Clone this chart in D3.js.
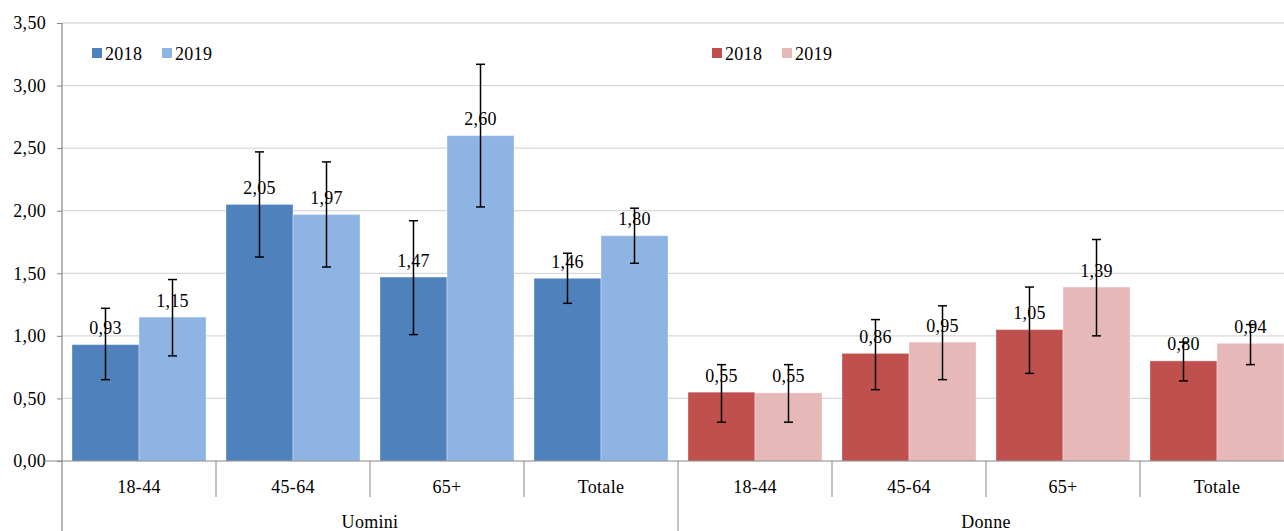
<!DOCTYPE html>
<html>
<head>
<meta charset="utf-8">
<script src="https://cdn.jsdelivr.net/npm/d3@7"></script>
<style>
  body { margin: 0; background: #fff; overflow: hidden; }
  svg text { font-family: "Liberation Serif", "DejaVu Serif", serif; fill: #000; font-size: 18px; letter-spacing: 0.3px; }
</style>
</head>
<body>
<div id="chart"></div>
<script>
// valori
var groups = ["Uomini", "Donne"];
var ages = ["18-44", "45-64", "65+", "Totale"];
var years = ["2018", "2019"];
var uomini2018 = [0.93, 2.05, 1.47, 1.46];
var uomini2019 = [1.15, 1.97, 2.60, 1.80];
var donne2018 = [0.55, 0.86, 1.05, 0.80];
var donne2019 = [0.545, 0.95, 1.39, 0.94];
// intervalli (limite inferiore / superiore)
var uomini2018Lo = [0.65, 1.63, 1.01, 1.26];
var uomini2018Hi = [1.22, 2.47, 1.92, 1.66];
var uomini2019Lo = [0.84, 1.55, 2.03, 1.58];
var uomini2019Hi = [1.45, 2.39, 3.17, 2.02];
var donne2018Lo = [0.31, 0.57, 0.70, 0.64];
var donne2018Hi = [0.77, 1.13, 1.39, 0.95];
var donne2019Lo = [0.31, 0.65, 1.00, 0.77];
var donne2019Hi = [0.77, 1.24, 1.77, 1.09];
var yTicks = [0, 0.5, 1, 1.5, 2, 2.5, 3, 3.5];

var palette = {
    Uomini: ["#4F81BD", "#8EB4E3"],
    Donne: ["#C0504D", "#E6B9B8"]
};

var W = 1284, H = 531;
// il grafico originale prosegue oltre il bordo destro
var mLeft = 62, mRight = 1294, mTop = 23, mBase = 461;

var series = {
    Uomini: [[uomini2018, uomini2018Lo, uomini2018Hi], [uomini2019, uomini2019Lo, uomini2019Hi]],
    Donne: [[donne2018, donne2018Lo, donne2018Hi], [donne2019, donne2019Lo, donne2019Hi]]
};

// righe piatte: una per barra
var rows = [];
groups.forEach(function (g) {
    ages.forEach(function (a, i) {
        years.forEach(function (yr, j) {
            rows.push({
                group: g, age: a, year: yr, yi: j,
                key: g + "|" + a,
                value: series[g][j][0][i],
                lo: series[g][j][1][i],
                hi: series[g][j][2][i]
            });
        });
    });
});

var catKeys = [];
groups.forEach(function (g) { ages.forEach(function (a) { catKeys.push(g + "|" + a); }); });

var x0 = d3.scaleBand().domain(catKeys).range([mLeft, mRight]).padding(0);
var x1 = d3.scaleBand().domain(years).range([0, x0.bandwidth()]).paddingInner(0).paddingOuter(0.149);
var y = d3.scaleLinear().domain([0, 3.5]).range([mBase, mTop]);

var fmt = function (v) { return d3.format(".2f")(v).replace(".", ","); };

var svg = d3.select("#chart").append("svg").attr("width", W).attr("height", H);

// griglia
svg.append("g").selectAll("line").data(yTicks.filter(function (t) { return t > 0; }))
    .enter().append("line")
    .attr("x1", mLeft).attr("x2", mRight)
    .attr("y1", function (d) { return y(d); }).attr("y2", function (d) { return y(d); })
    .attr("stroke", "#d9d9d9").attr("stroke-width", 1.3);

// asse y
var yAxis = d3.axisLeft(y).tickValues(yTicks).tickFormat(fmt).tickSize(5).tickPadding(11);
var gy = svg.append("g").attr("transform", "translate(" + mLeft + ",0)").call(yAxis);
gy.select(".domain").remove();
gy.attr("font-size", null).attr("font-family", null);
gy.selectAll(".tick line").attr("stroke", "#868686");
svg.append("line").attr("x1", mLeft).attr("x2", mLeft).attr("y1", mTop).attr("y2", H)
    .attr("stroke", "#868686").attr("stroke-width", 1.2);

// barre
svg.append("g").selectAll("rect").data(rows).enter().append("rect")
    .attr("x", function (d) { return x0(d.key) + x1(d.year); })
    .attr("width", x1.bandwidth())
    .attr("y", function (d) { return y(d.value); })
    .attr("height", function (d) { return y(0) - y(d.value); })
    .attr("fill", function (d) { return palette[d.group][d.yi]; })
    .attr("stroke", "#ffffff").attr("stroke-opacity", 0.35).attr("stroke-width", 1);

// etichette valori
svg.append("g").selectAll("text").data(rows).enter().append("text")
    .attr("x", function (d) { return x0(d.key) + x1(d.year) + x1.bandwidth() / 2; })
    .attr("y", function (d) { return y(d.value) - 10.5; })
    .attr("text-anchor", "middle")
    .text(function (d) { return fmt(d.value); });

// barre d'errore
var eb = svg.append("g").attr("stroke", "#000").attr("stroke-width", 1.5);
rows.forEach(function (d) {
    var cx = x0(d.key) + x1(d.year) + x1.bandwidth() / 2;
    eb.append("line").attr("x1", cx).attr("x2", cx).attr("y1", y(d.hi)).attr("y2", y(d.lo));
    [d.hi, d.lo].forEach(function (v) {
        eb.append("line").attr("x1", cx - 4.5).attr("x2", cx + 4.5).attr("y1", y(v)).attr("y2", y(v));
    });
});

// asse x
svg.append("line").attr("x1", mLeft - 18).attr("x2", mRight).attr("y1", mBase).attr("y2", mBase)
    .attr("stroke", "#868686").attr("stroke-width", 1.2);
var gx = svg.append("g");
catKeys.forEach(function (k, i) {
    var xs = x0(k);
    var isGroupStart = (i % ages.length) === 0;
    if (i > 0) {
        gx.append("line").attr("x1", xs).attr("x2", xs).attr("y1", mBase)
            .attr("y2", isGroupStart ? H : 497)
            .attr("stroke", "#868686").attr("stroke-width", 1);
    }
    gx.append("text").attr("x", xs + x0.bandwidth() / 2).attr("y", 493)
        .attr("text-anchor", "middle")
        .text(k.split("|")[1]);
});
groups.forEach(function (g) {
    var first = x0(g + "|" + ages[0]);
    var last = x0(g + "|" + ages[ages.length - 1]) + x0.bandwidth();
    gx.append("text").attr("x", (first + last) / 2).attr("y", 528)
        .attr("text-anchor", "middle").text(g);
});

// legende
var legendPos = { Uomini: 92, Donne: 712 };
groups.forEach(function (g) {
    var lg = svg.append("g").attr("transform", "translate(" + legendPos[g] + ",48)");
    years.forEach(function (yr, j) {
        var off = j * 70;
        lg.append("rect").attr("x", off).attr("y", 0).attr("width", 10).attr("height", 10)
            .attr("fill", palette[g][j]);
        lg.append("text").attr("x", off + 13).attr("y", 11.5).text(yr);
    });
});
</script>
</body>
</html>
